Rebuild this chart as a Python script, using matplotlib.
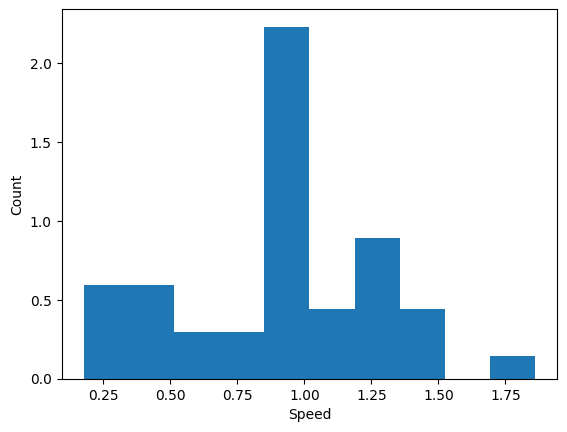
import numpy as np
import matplotlib
matplotlib.use("Agg")
import matplotlib.pyplot as plt

speed_min = 0.178
speed_max = 1.86
n_bins = 10
bin_counts = [4, 4, 2, 2, 15, 3, 6, 3, 0, 1]

edges = np.linspace(speed_min, speed_max, n_bins + 1)
centers = (edges[:-1] + edges[1:]) / 2

fig, ax = plt.subplots(figsize=(5.67, 4.32), dpi=100)
ax.hist(centers, bins=edges, weights=bin_counts, density=True)
ax.set_xlabel("Speed")
ax.set_ylabel("Count")
fig.subplots_adjust(left=0.1085, right=0.983, bottom=0.1227, top=0.9785)
fig.savefig("out.png")
